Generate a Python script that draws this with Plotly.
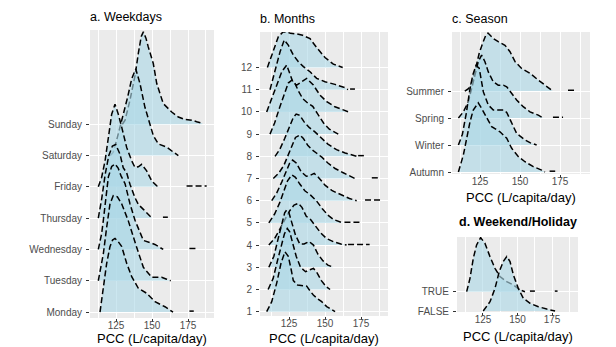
import plotly.graph_objects as go

W, H = 616, 347

# ---------------- categories / ticks ----------------
weekdays = ["Monday", "Tuesday", "Wednesday", "Thursday", "Friday", "Saturday", "Sunday"]
months = ["1", "2", "3", "4", "5", "6", "7", "8", "9", "10", "11", "12"]
seasons = ["Autumn", "Winter", "Spring", "Summer"]
holiday = ["FALSE", "TRUE"]
x_ticks = [125, 150, 175]
x_minor = [112.5, 137.5, 162.5, 187.5]
titles = ["a. Weekdays", "b. Months", "c. Season", "d. Weekend/Holiday"]
x_title = "PCC (L/capita/day)"

# ---------------- ridge data (x = PCC, h = scaled density) ----------------
# a. Weekdays
mon_x = [113.9, 116.2, 118.5, 120.8, 122.6, 124.3, 126.5, 129.0, 132.4, 135.9, 140.5, 146.3, 152.1, 159.0, 162.5, 164.6]
mon_h = [0.0, 0.8, 1.55, 2.09, 2.3, 2.35, 2.25, 2.09, 1.56, 1.13, 0.76, 0.6, 0.33, 0.17, 0.06, 0.0]
mon_tail = [176.0, 179.0]
tue_x = [112.7, 116.2, 118.5, 120.8, 123.1, 126.0, 129.0, 133.5, 139.4, 144.0, 149.8, 156.7, 160.2, 163.0]
tue_h = [0.0, 0.86, 1.7, 2.45, 2.72, 2.68, 2.45, 1.92, 1.06, 0.43, 0.11, 0.11, 0.05, 0.0]
tue_tail = []
wed_x = [112.7, 115.0, 116.2, 117.9, 119.7, 122.0, 124.3, 126.5, 128.5, 131.3, 134.7, 138.2, 144.0, 152.0, 157.8]
wed_h = [0.0, 0.5, 0.93, 1.68, 2.32, 2.65, 2.73, 2.6, 2.35, 2.1, 1.46, 0.93, 0.29, 0.16, 0.0]
wed_tail = [176.0, 182.0]
thu_x = [112.7, 115.0, 117.5, 120.0, 122.5, 124.8, 127.8, 130.0, 132.4, 134.7, 138.2, 140.5, 144.0, 147.4, 150.0]
thu_h = [0.0, 0.6, 1.4, 2.0, 2.3, 2.35, 2.04, 1.61, 1.45, 1.08, 0.65, 0.44, 0.28, 0.12, 0.0]
thu_tail = [157.6, 161.0]
fri_x = [112.7, 115.0, 117.4, 119.7, 122.0, 124.3, 126.6, 129.0, 132.4, 135.9, 138.2, 140.5, 142.8, 144.5, 146.3, 149.8, 153.3, 155.6]
fri_h = [0.0, 0.3, 0.83, 1.58, 2.32, 2.64, 2.32, 1.9, 1.26, 0.83, 0.62, 0.64, 0.72, 0.62, 0.51, 0.19, 0.03, 0.0]
fri_tail = [174.0, 188.0]
sat_x = [121.0, 123.0, 125.5, 128.0, 130.5, 133.0, 135.9, 138.7, 141.7, 145.1, 148.6, 150.9, 154.4, 160.2, 164.8, 168.3]
sat_h = [0.0, 0.1, 0.5, 1.0, 1.4, 1.85, 2.45, 2.77, 2.29, 1.54, 1.01, 0.64, 0.37, 0.27, 0.11, 0.0]
sat_tail = []
sun_x = [129.4, 131.3, 134.7, 138.2, 140.5, 142.5, 144.0, 145.8, 147.4, 150.9, 153.3, 157.8, 163.7, 168.3, 172.9, 177.6, 181.0, 185.0]
sun_h = [0.0, 0.13, 0.77, 1.55, 2.26, 2.8, 2.95, 2.75, 2.47, 1.94, 1.3, 0.66, 0.39, 0.23, 0.15, 0.13, 0.08, 0.03]
sun_tail = []

# b. Months
m1_x = [109.5, 113.0, 116.5, 119.5, 122.2, 124.5, 126.5, 128.0, 131.0, 134.0, 137.3, 139.5, 141.9, 144.5, 147.7, 151.2, 154.0, 157.0]
m1_h = [0.0, 0.45, 1.3, 2.2, 2.7, 2.5, 1.9, 1.4, 1.2, 1.18, 1.15, 0.95, 0.75, 0.6, 0.45, 0.23, 0.1, 0.0]
m2_x = [110.5, 114.0, 117.0, 119.5, 121.8, 123.8, 125.5, 127.5, 130.0, 133.0, 136.5, 140.0, 142.0, 144.5, 147.5, 150.5, 153.5]
m2_h = [0.0, 0.5, 1.3, 2.0, 2.5, 2.75, 2.6, 2.1, 1.5, 1.0, 0.8, 0.9, 0.95, 0.75, 0.4, 0.15, 0.0]
m3_x = [111.0, 114.5, 117.5, 120.0, 122.0, 123.4, 125.0, 127.0, 129.5, 132.5, 135.5, 139.0, 142.0, 145.0, 148.5, 152.0, 155.8]
m3_h = [0.0, 0.5, 1.3, 2.0, 2.45, 2.58, 2.45, 2.0, 1.45, 1.05, 1.05, 1.16, 1.0, 0.6, 0.3, 0.1, 0.0]
m4_x = [111.0, 115.0, 118.5, 122.0, 125.5, 128.5, 131.4, 134.0, 137.0, 140.0, 143.5, 147.0, 151.0, 156.0, 161.0, 165.0]
m4_h = [0.0, 0.3, 0.7, 1.15, 1.55, 1.8, 1.88, 1.7, 1.3, 1.15, 0.85, 0.55, 0.3, 0.15, 0.05, 0.0]
m5_x = [111.0, 115.0, 118.5, 121.5, 124.0, 126.9, 129.5, 132.5, 136.0, 140.0, 144.0, 148.0, 152.0, 156.0, 160.0, 162.5]
m5_h = [0.0, 0.4, 0.9, 1.45, 1.9, 2.16, 2.05, 1.75, 1.45, 1.25, 1.0, 0.65, 0.35, 0.15, 0.05, 0.0]
m6_x = [113.0, 116.5, 120.0, 123.0, 125.5, 127.5, 130.0, 133.5, 137.0, 140.0, 142.5, 145.5, 150.0, 155.0, 161.0, 167.0, 172.0]
m6_h = [0.0, 0.35, 0.85, 1.35, 1.7, 1.83, 1.7, 1.3, 1.1, 1.15, 1.23, 1.05, 0.7, 0.45, 0.28, 0.1, 0.0]
m7_x = [114.1, 118.0, 121.5, 124.5, 127.0, 129.5, 132.6, 135.0, 138.0, 141.0, 144.0, 148.0, 152.0, 157.0, 162.0, 167.0, 170.8]
m7_h = [0.0, 0.25, 0.6, 1.05, 1.5, 1.85, 1.96, 1.8, 1.5, 1.3, 1.15, 0.95, 0.7, 0.45, 0.28, 0.1, 0.0]
m8_x = [115.3, 118.5, 122.0, 125.5, 128.0, 130.0, 132.5, 135.5, 139.0, 143.0, 147.0, 152.0, 158.0, 164.0, 169.5, 172.0]
m8_h = [0.0, 0.3, 0.8, 1.35, 1.75, 1.9, 1.85, 1.55, 1.3, 1.1, 0.85, 0.55, 0.3, 0.15, 0.05, 0.0]
m9_x = [111.8, 115.0, 118.5, 122.0, 124.5, 126.9, 129.0, 131.5, 134.5, 138.0, 141.5, 145.0, 149.0, 153.0, 156.5, 159.2]
m9_h = [0.0, 0.5, 1.2, 1.9, 2.3, 2.43, 2.3, 1.95, 1.6, 1.4, 1.25, 0.9, 0.5, 0.22, 0.08, 0.0]
m10_x = [109.5, 113.0, 116.5, 120.0, 123.4, 125.7, 128.0, 130.3, 133.5, 137.3, 141.9, 146.5, 151.2, 156.9, 162.7, 166.2]
m10_h = [0.0, 0.61, 1.29, 1.81, 2.11, 1.74, 1.29, 1.21, 1.35, 1.51, 1.21, 0.76, 0.46, 0.23, 0.09, 0.0]
m11_x = [111.8, 115.3, 118.8, 121.7, 124.5, 128.0, 131.5, 135.0, 139.6, 144.2, 150.0, 156.9, 163.9, 166.0]
m11_h = [0.0, 0.81, 1.71, 2.24, 2.01, 1.56, 1.26, 1.04, 0.81, 0.51, 0.36, 0.24, 0.09, 0.0]
m12_x = [110.0, 114.1, 117.6, 121.0, 123.5, 126.0, 130.0, 134.5, 139.6, 144.2, 150.0, 155.8, 162.3]
m12_h = [0.0, 0.79, 1.39, 1.61, 1.6, 1.54, 1.52, 1.45, 1.3, 0.9, 0.45, 0.15, 0.0]
month_tails = {4: [166.0, 181.0], 5: [163.5, 175.5], 6: [177.8, 189.4], 7: [182.5, 187.0], 8: [173.0, 177.0], 11: [167.4, 170.8]}

# c. Season
aut_x = [111.5, 114.6, 116.7, 118.75, 120.8, 123.9, 126.0, 129.2, 132.3, 137.5, 141.7, 144.8, 149.0, 153.1, 158.3, 163.5, 165.6]
aut_h = [0.0, 0.63, 1.25, 1.86, 2.3, 2.56, 2.36, 1.99, 1.68, 1.49, 1.25, 0.88, 0.57, 0.38, 0.2, 0.07, 0.0]
aut_tail = [168.5, 172.0]
win_x = [111.5, 114.0, 116.5, 118.5, 120.5, 122.5, 124.5, 127.1, 130.2, 133.3, 136.5, 139.6, 141.7, 144.8, 147.9, 153.1, 156.5, 160.4]
win_h = [0.0, 0.4, 1.2, 2.0, 2.6, 2.95, 2.85, 1.97, 1.48, 1.3, 1.3, 1.3, 1.21, 0.8, 0.43, 0.19, 0.08, 0.0]
win_tail = []
spr_x = [111.5, 114.6, 117.7, 119.8, 121.9, 123.9, 126.0, 128.1, 130.2, 133.3, 136.4, 139.6, 141.7, 144.8, 147.9, 152.0, 156.25, 161.4, 164.6]
spr_h = [0.0, 0.23, 0.6, 1.1, 1.71, 2.09, 2.33, 2.09, 1.71, 1.34, 1.22, 1.22, 1.16, 0.91, 0.67, 0.42, 0.23, 0.11, 0.0]
spr_tail = [170.6, 176.9]
sum_x = [115.5, 118.0, 120.5, 122.5, 124.5, 126.5, 128.5, 130.0, 131.5, 133.3, 136.4, 140.6, 143.75, 146.9, 151.0, 156.25, 161.4, 165.6, 168.75, 170.5]
sum_h = [0.0, 0.1, 0.4, 0.9, 1.4, 1.75, 2.05, 2.15, 2.05, 1.95, 1.83, 1.7, 1.46, 1.09, 0.84, 0.66, 0.41, 0.22, 0.1, 0.0]
sum_tail = [180.0, 185.4]

# d. Weekend/Holiday
false_x = [125.2, 130.1, 133.7, 136.8, 139.7, 142.2, 144.6, 147.0, 150.6, 154.2, 159.1, 165.1, 171.2, 177.2]
false_h = [0.0, 0.48, 1.17, 2.04, 2.56, 2.82, 2.56, 1.87, 1.17, 0.66, 0.4, 0.22, 0.1, 0.0]
false_tail = []
true_x = [113.2, 115.6, 118.0, 120.4, 123.3, 126.4, 130.1, 133.7, 137.3, 142.2, 147.0, 151.8, 155.4]
true_h = [0.0, 0.69, 1.73, 2.42, 2.8, 2.51, 1.81, 1.21, 0.78, 0.52, 0.35, 0.09, 0.0]
true_tail = [159.0, 162.6, None, 177.0, 179.0]

# ---------------- styling ----------------
PANEL_BG = "#EBEBEB"
FILL = "rgba(173,216,230,0.62)"
LINE = dict(color="black", width=1.5, dash="6px,3px")
FONT = "Liberation Sans, Arial, sans-serif"

fig = go.Figure()


def add_ridges(ridges, ax):
    """ridges: list of (baseline, xs, hs, tail) from top to bottom"""
    xa, ya = "x" + ax, "y" + ax
    for base, xs, hs, tail in ridges:
        px = list(xs) + [xs[-1], xs[0]]
        py = [base + h for h in hs] + [base, base]
        fig.add_trace(go.Scatter(x=px, y=py, mode="lines", fill="toself",
                                 fillcolor=FILL, line=dict(width=0),
                                 xaxis=xa, yaxis=ya, hoverinfo="skip", showlegend=False))
        fig.add_trace(go.Scatter(x=xs, y=[base + h for h in hs], mode="lines",
                                 line=LINE, xaxis=xa, yaxis=ya,
                                 hoverinfo="skip", showlegend=False))
        if tail:
            ty = [None if t is None else base + 0.03 for t in tail]
            fig.add_trace(go.Scatter(x=tail, y=ty, mode="lines", line=LINE,
                                     xaxis=xa, yaxis=ya, connectgaps=False,
                                     hoverinfo="skip", showlegend=False))


wk = [(1, mon_x, mon_h, mon_tail), (2, tue_x, tue_h, tue_tail), (3, wed_x, wed_h, wed_tail),
      (4, thu_x, thu_h, thu_tail), (5, fri_x, fri_h, fri_tail), (6, sat_x, sat_h, sat_tail),
      (7, sun_x, sun_h, sun_tail)]
add_ridges(wk[::-1], "")

mx = [m1_x, m2_x, m3_x, m4_x, m5_x, m6_x, m7_x, m8_x, m9_x, m10_x, m11_x, m12_x]
mh = [m1_h, m2_h, m3_h, m4_h, m5_h, m6_h, m7_h, m8_h, m9_h, m10_h, m11_h, m12_h]
mo = [(i + 1, mx[i], mh[i], month_tails.get(i + 1, [])) for i in range(12)]
add_ridges(mo[::-1], "2")

se = [(1, aut_x, aut_h, aut_tail), (2, win_x, win_h, win_tail),
      (3, spr_x, spr_h, spr_tail), (4, sum_x, sum_h, sum_tail)]
add_ridges(se[::-1], "3")

ho = [(1, false_x, false_h, false_tail), (2, true_x, true_h, true_tail)]
add_ridges(ho[::-1], "4")

# ---------------- panel geometry (pixels) ----------------
panels = [
    (90, 214, 30, 318, [106.94, 193.06], [0.81, 10.01], weekdays),
    (260, 388, 32, 316, [104.86, 193.75], [0.806, 13.6], months),
    (452, 590, 32, 174, [107.5, 193.75], [0.926, 6.19], seasons),
    (457, 578, 237, 312, [106.2, 193.8], [0.948, 4.83], holiday),
]

layout = dict(width=W, height=H, margin=dict(l=0, r=0, t=0, b=0, autoexpand=False),
              paper_bgcolor="white", plot_bgcolor=PANEL_BG, showlegend=False,
              font=dict(family=FONT, color="#4D4D4D"))
for i, (l, r, t, b, xr, yr, cats) in enumerate(panels):
    sfx = "" if i == 0 else str(i + 1)
    layout["xaxis" + sfx] = dict(
        domain=[l / W, r / W], range=xr, anchor="y" + sfx, automargin=False,
        tickmode="array", tickvals=x_ticks, ticktext=[str(v) for v in x_ticks],
        ticks="outside", ticklen=3, tickcolor="#333333", tickwidth=1,
        ticklabelstandoff=-5,
        tickfont=dict(size=10, color="#4D4D4D", family=FONT),
        showgrid=True, gridcolor="white", gridwidth=1.1,
        minor=dict(tickvals=x_minor, showgrid=True, gridcolor="white", gridwidth=0.5, ticks=""),
        zeroline=False, showline=False, fixedrange=True)
    layout["yaxis" + sfx] = dict(
        domain=[1 - b / H, 1 - t / H], range=yr, anchor="x" + sfx, automargin=False,
        tickmode="array", tickvals=list(range(1, len(cats) + 1)), ticktext=cats,
        ticks="outside", ticklen=3, tickcolor="#333333", tickwidth=1,
        ticklabelstandoff=2,
        tickfont=dict(size=10, color="#4D4D4D", family=FONT),
        showgrid=True, gridcolor="white", gridwidth=1.1,
        zeroline=False, showline=False, fixedrange=True)

fig.update_layout(**layout)

ann = []
title_pos = [(88, 17, False), (258, 19, False), (450, 19, False), (457, 222, True)]
for (x0, y0, bold), txt in zip(title_pos, titles):
    ann.append(dict(x=x0 / W, y=1 - y0 / H, xref="paper", yref="paper", xanchor="left",
                    yanchor="middle", showarrow=False,
                    text=("<b>%s</b>" % txt) if bold else txt,
                    font=dict(size=12.5, color="black", family=FONT)))
xt_pos = [(152, 338), (324, 338), (521, 197), (517.5, 336)]
for (x0, y0) in xt_pos:
    ann.append(dict(x=x0 / W, y=1 - y0 / H, xref="paper", yref="paper", xanchor="center",
                    yanchor="middle", showarrow=False, text=x_title,
                    font=dict(size=13, color="black", family=FONT)))
fig.update_layout(annotations=ann)

fig.write_html("out.html", config={"displayModeBar": False},
               post_script="document.body.style.margin='0';document.body.style.overflow='hidden';")
